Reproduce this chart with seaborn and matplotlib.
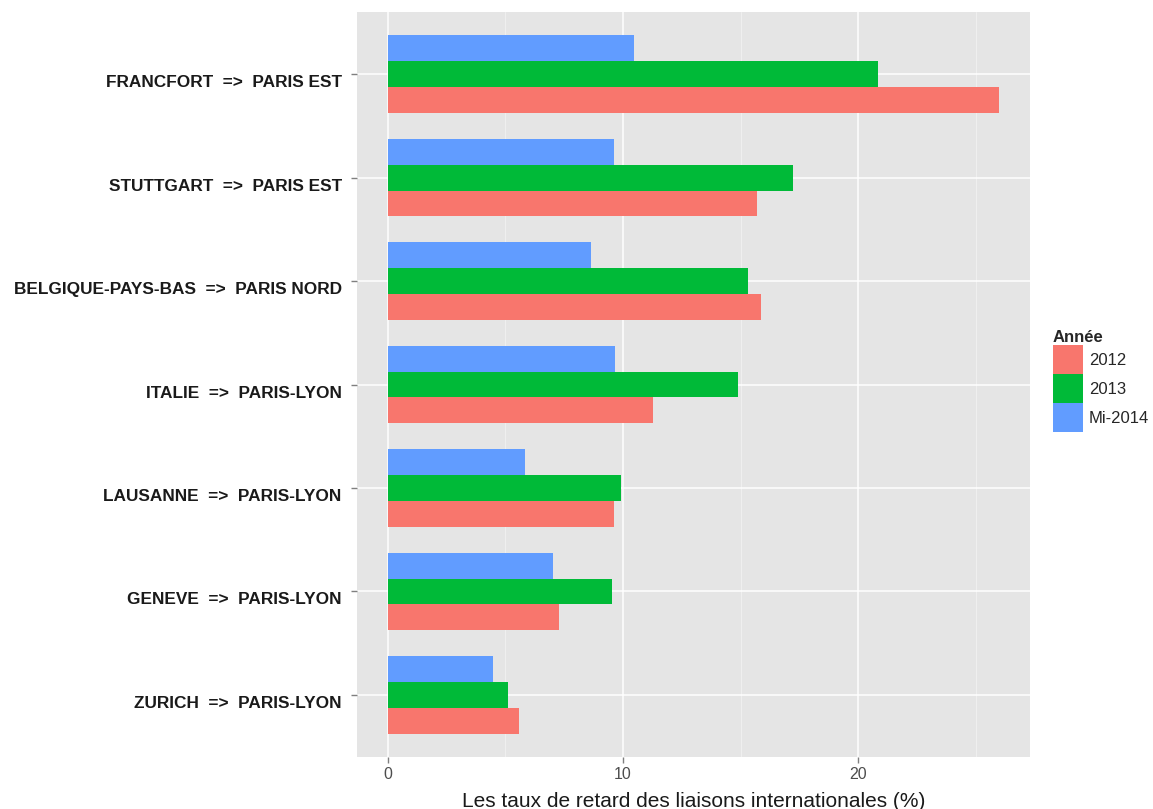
import matplotlib
matplotlib.use("Agg")
import matplotlib.pyplot as plt
import matplotlib.patches as mpatches
import matplotlib.transforms as mtransforms
import seaborn as sns
import pandas as pd

routes = [
    "FRANCFORT  =>  PARIS EST",
    "STUTTGART  =>  PARIS EST",
    "BELGIQUE-PAYS-BAS  =>  PARIS NORD",
    "ITALIE  =>  PARIS-LYON",
    "LAUSANNE  =>  PARIS-LYON",
    "GENEVE  =>  PARIS-LYON",
    "ZURICH  =>  PARIS-LYON",
]
years = ["2012", "2013", "Mi-2014"]
v2012 = [26.0, 15.7, 15.87, 11.26, 9.63, 7.30, 5.57]
v2013 = [20.83, 17.23, 15.32, 14.90, 9.90, 9.52, 5.10]
v2014 = [10.46, 9.61, 8.66, 9.67, 5.84, 7.03, 4.49]
colors = {"2012": "#F8766D", "2013": "#00BA38", "Mi-2014": "#619CFF"}

df = pd.DataFrame({
    "route": routes * 3,
    "annee": ["2012"] * 7 + ["2013"] * 7 + ["Mi-2014"] * 7,
    "taux": v2012 + v2013 + v2014,
})

sns.set_theme(style="white")
plt.rcParams["font.family"] = ["Liberation Sans", "DejaVu Sans"]

fig = plt.figure(figsize=(11.53, 8.09), dpi=100)
ax = fig.add_axes([0.3096, 0.0643, 0.5837, 0.9207])

sns.barplot(data=df, y="route", x="taux", hue="annee", order=routes,
            hue_order=["Mi-2014", "2013", "2012"], palette=colors,
            orient="h", width=0.75, linewidth=0, saturation=1,
            legend=False, ax=ax)

ax.set_facecolor("#E5E5E5")
for s in ax.spines.values():
    s.set_visible(False)
ax.set_xlim(-1.3, 27.3)
ax.set_ylim(6.6, -0.6)
ax.set_xticks([0, 10, 20])
ax.set_xticks([5, 15, 25], minor=True)
ax.grid(True, which="major", color="white", linewidth=1.1)
ax.grid(True, which="minor", axis="x", color="#F2F2F2", linewidth=0.6)
ax.set_axisbelow(True)
ax.tick_params(axis="x", which="major", colors="#7F7F7F", labelcolor="#4D4D4D",
               labelsize=11.5, length=4, width=1, bottom=True)
ax.tick_params(axis="x", which="minor", length=0)
ax.tick_params(axis="y", colors="#7F7F7F", labelcolor="#1A1A1A",
               labelsize=12.4, length=4, width=1, pad=7, left=True)
shift = mtransforms.ScaledTranslation(0, -7 / 100, fig.dpi_scale_trans)
for lbl in ax.get_yticklabels():
    lbl.set_fontweight("bold")
    lbl.set_transform(lbl.get_transform() + shift)
ax.set_ylabel("")
ax.set_xlabel("Les taux de retard des liaisons internationales (%)",
              fontsize=15, color="#1A1A1A", labelpad=7)

handles = [mpatches.Patch(facecolor=colors[y], edgecolor="none", label=y) for y in years]
leg = fig.legend(handles=handles, title="Année", loc="upper left",
                 bbox_to_anchor=(0.9075, 0.6), frameon=False,
                 fontsize=12, title_fontproperties={"weight": "bold", "size": 12},
                 handlelength=1.8, handleheight=2.3, handletextpad=0.35,
                 labelspacing=0.0, borderaxespad=0)
leg._legend_box.align = "left"

fig.savefig("out.png", dpi=100, facecolor="white")
